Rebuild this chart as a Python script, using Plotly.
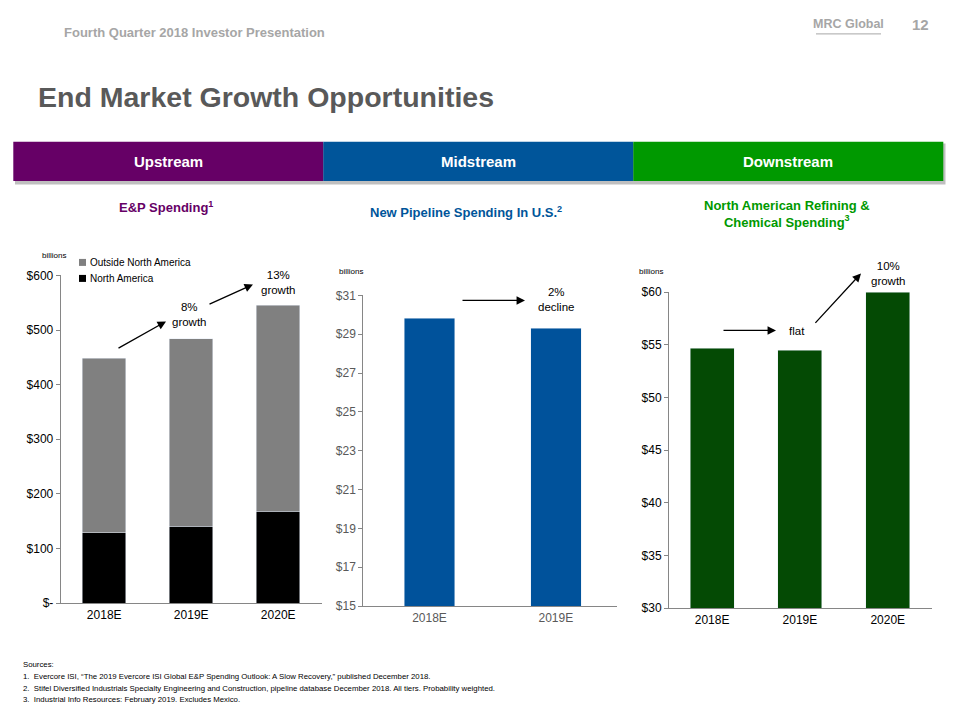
import plotly.graph_objects as go

# ---------------- data ----------------
years3 = ["2018E", "2019E", "2020E"]
na_spend = [129, 141, 168]            # North America, $bn
outside_na = [319, 343, 377]          # Outside North America, $bn
e1_ticks = [0, 100, 200, 300, 400, 500, 600]
e1_labels = ["$-", "$100", "$200", "$300", "$400", "$500", "$600"]

years2 = ["2018E", "2019E"]
pipeline = [29.83, 29.32]
p_ticks = [15, 17, 19, 21, 23, 25, 27, 29, 31]
p_labels = ["$" + str(v) for v in p_ticks]

refining = [54.65, 54.5, 60.0]
r_ticks = [30, 35, 40, 45, 50, 55, 60]
r_labels = ["$" + str(v) for v in r_ticks]

footnotes = [
    "Sources:",
    "1.  Evercore ISI, \u201cThe 2019 Evercore ISI Global E&P Spending Outlook: A Slow Recovery,\u201d published December 2018.",
    "2.  Stifel Diversified Industrials Specialty Engineering and Construction, pipeline database December 2018. All tiers. Probability weighted.",
    "3.  Industrial Info Resources: February 2019. Excludes Mexico.",
]

W, H = 960, 720
VS, VO = 0.9805, 6.6   # observed vertical mapping of the photographed page


def px(x):
    return x / W


def py(y):
    return 1 - ((y - VO) / VS) / H


FONT = "Liberation Sans, Arial, sans-serif"

fig = go.Figure()

# Chart 1: E&P stacked
fig.add_trace(go.Bar(x=years3, y=na_spend, name="North America", marker=dict(color="#000000"),
                     width=0.5, xaxis="x", yaxis="y", showlegend=False))
fig.add_trace(go.Bar(x=years3, y=outside_na, name="Outside North America", marker=dict(color="#808080"),
                     width=0.5, xaxis="x", yaxis="y", showlegend=False))
# Chart 2: pipeline
fig.add_trace(go.Bar(x=years2, y=pipeline, marker=dict(color="#00529B"), width=0.4,
                     xaxis="x2", yaxis="y2", showlegend=False, base=0))
# Chart 3: refining
fig.add_trace(go.Bar(x=years3, y=refining, marker=dict(color="#044A04"), width=0.5,
                     xaxis="x3", yaxis="y3", showlegend=False))

axcol = "#868686"
common_x = dict(type="category", showgrid=False, showline=True, linecolor=axcol, linewidth=1,
                ticks="", zeroline=False, fixedrange=True)
common_y = dict(showgrid=False, showline=True, linecolor=axcol, linewidth=1, ticks="outside",
                ticklen=4, tickcolor=axcol, zeroline=False, fixedrange=True)

fig.update_layout(
    width=W, height=H, margin=dict(l=0, r=0, t=0, b=0),
    paper_bgcolor="white", plot_bgcolor="white",
    barmode="stack", font=dict(family=FONT, color="#000000"),
    xaxis=dict(common_x, domain=[px(60.7), px(321.7)], range=[-0.5, 2.5], anchor="y",
               tickfont=dict(size=12, color="#000000")),
    yaxis=dict(common_y, domain=[py(602.7), py(275)], range=[0, 600], anchor="x",
               tickvals=e1_ticks, ticktext=e1_labels, tickfont=dict(size=12, color="#000000")),
    xaxis2=dict(common_x, domain=[px(363.3), px(616.7)], range=[-0.524, 1.482], anchor="y2",
                tickfont=dict(size=12, color="#595959")),
    yaxis2=dict(common_y, domain=[py(605.7), py(295)], range=[15, 31], anchor="x2",
                tickvals=p_ticks, ticktext=p_labels, tickfont=dict(size=12, color="#595959")),
    xaxis3=dict(common_x, domain=[px(669), px(931.7)], range=[-0.49, 2.5], anchor="y3",
                tickfont=dict(size=12, color="#000000")),
    yaxis3=dict(common_y, domain=[py(607.7), py(291.7)], range=[30, 60], anchor="x3",
                tickvals=r_ticks, ticktext=r_labels, tickfont=dict(size=12, color="#000000")),
)

shapes = []
# banner shadow
shapes.append(dict(type="rect", xref="paper", yref="paper", x0=px(15), x1=px(945.5), y0=py(184), y1=py(143),
                   fillcolor="#BFBFBF", line=dict(width=0), layer="below"))
banner = [("#660066", 13.3, 323.3, "Upstream"), ("#00559A", 323.3, 633.3, "Midstream"),
          ("#009900", 633.3, 943.3, "Downstream")]
for col, a, b, lab in banner:
    shapes.append(dict(type="rect", xref="paper", yref="paper", x0=px(a), x1=px(b), y0=py(180.7), y1=py(141.3),
                       fillcolor=col, line=dict(width=0), layer="below"))
# legend squares
shapes.append(dict(type="rect", xref="paper", yref="paper", x0=px(79), x1=px(86), y0=py(265.5), y1=py(258.5),
                   fillcolor="#808080", line=dict(width=0)))
shapes.append(dict(type="rect", xref="paper", yref="paper", x0=px(79), x1=px(86), y0=py(281.5), y1=py(274.5),
                   fillcolor="#000000", line=dict(width=0)))
# MRC underline
shapes.append(dict(type="line", xref="paper", yref="paper", x0=px(816), x1=px(881), y0=py(33.5), y1=py(33.5),
                   line=dict(color="#A6A6A6", width=1)))
fig.update_layout(shapes=shapes)

ann = []


def text(x, y, s, size=12, color="#000000", family=FONT, xanchor="center", yanchor="middle", align="center"):
    ann.append(dict(xref="paper", yref="paper", x=px(x), y=py(y), text=s, showarrow=False,
                    font=dict(size=size, color=color, family=family), xanchor=xanchor, yanchor=yanchor,
                    align=align))


def arrow(x0, y0, x1, y1):
    ann.append(dict(xref="paper", yref="paper", axref="pixel", ayref="pixel", x=px(x1), y=py(y1),
                    ax=x0 - x1, ay=(y0 - y1) / VS, text="", showarrow=True, arrowhead=2, arrowsize=1.3,
                    arrowwidth=1.3, arrowcolor="#000000"))


text(62, 32, "<b>Fourth Quarter 2018 Investor Presentation</b>", size=13, color="#A6A6A6", xanchor="left")
text(848, 24, "<b>MRC Global</b>", size=12.5, color="#A6A6A6")
text(920, 24, "<b>12</b>", size=15, color="#A6A6A6")
text(36, 97, "<b>End Market Growth Opportunities</b>", size=28.5, color="#595959", xanchor="left")
for col, a, b, lab in banner:
    text((a + b) / 2, 161, "<b>" + lab + "</b>", size=15, color="#FFFFFF")
text(166, 207, "<b>E&P Spending<sup>1</sup></b>", size=13, color="#660066")
text(466, 212, "<b>New Pipeline Spending In U.S.<sup>2</sup></b>", size=13, color="#00559A")
text(787, 214, "<b>North American Refining &<br>Chemical Spending<sup>3</sup></b>", size=13, color="#009900")

text(40, 255, "billions", size=8, xanchor="left")
text(337, 271, "billions", size=8, xanchor="left")
text(637, 271, "billions", size=8, xanchor="left")
text(88, 262, "Outside North America", size=10, xanchor="left")
text(88, 278, "North America", size=10, xanchor="left")

arrow(117, 348, 166, 321)
text(189, 314, "8%<br>growth", size=11.5)
arrow(208, 304, 253, 284)
text(278, 282, "13%<br>growth", size=11.5)
arrow(461, 300, 525, 300)
text(556, 299, "2%<br>decline", size=11.5)
arrow(722, 330, 776, 330)
text(797, 331, "flat", size=11.5)
arrow(814, 323, 861, 273)
text(888, 273, "10%<br>growth", size=11.5)

fy = [664, 676, 688, 699]
for i, line in enumerate(footnotes):
    text(21, fy[i], line, size=7.8, xanchor="left")

fig.update_layout(annotations=ann)
fig.write_html("out.html")
